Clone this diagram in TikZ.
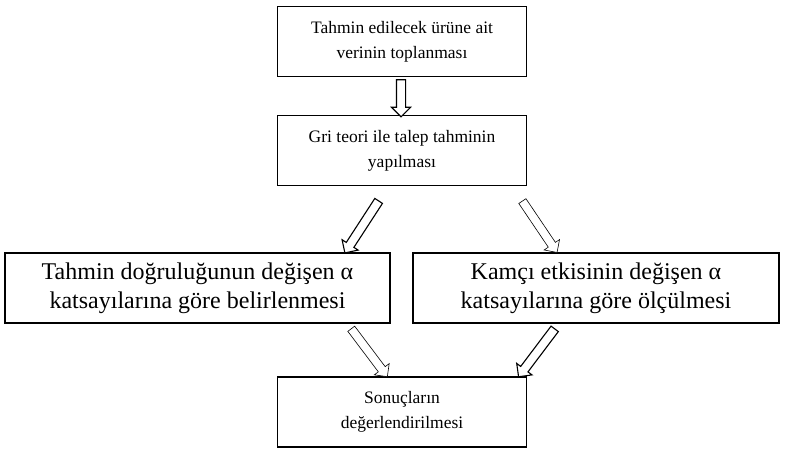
\documentclass[tikz,border=0pt]{standalone}
\usepackage{fontspec}
\setmainfont{Liberation Serif}
\usetikzlibrary{positioning, shapes.arrows}
\tikzset{%
  stepbox/.style={draw, line width=1.2pt, align=center,
    minimum height=70pt, inner sep=0pt,
    font=\fontsize{17.5}{25}\selectfont},
  widebox/.style={stepbox, font=\fontsize{24}{29}\selectfont},
  hollow/.style={single arrow, draw, fill=white, line width=0.6pt,
    minimum width=18pt, inner sep=4pt,
    single arrow head extend=5pt, single arrow head indent=0pt},
  hollow heavy/.style={hollow, line width=1.1pt}
}
\begin{document}
\begin{tikzpicture}[x=1pt, y=1pt]
    \useasboundingbox (0,0) rectangle (791,458);

    % boxes
    \node[stepbox, minimum width=249pt] (collect) at (402,416.5) {Tahmin edilecek ürüne ait\\verinin toplanması};
    \node[stepbox, minimum width=249pt] (grey) at (402,307.5) {Gri teori ile talep tahminin\\yapılması};
    \node[widebox, minimum width=385pt] (accuracy) at (197.5,170) {Tahmin doğruluğunun değişen α\\katsayılarına göre belirlenmesi};
    \node[widebox, minimum width=366pt] (bullwhip) at (596,170) {Kamçı etkisinin değişen α\\katsayılarına göre ölçülmesi};
    \node[stepbox, minimum width=249pt] (results) at (402,46) {Sonuçların\\değerlendirilmesi};

    % hollow arrows between the boxes
    \node[hollow heavy, minimum height=37pt, rotate=-90] (a1) at (401,362) {};
    \node[hollow heavy, minimum height=62pt, rotate=-123] (a2) at (363,233) {};
    \node[hollow, minimum height=62pt, rotate=-56] (a3) at (538.5,233) {};
    \node[hollow, minimum height=60pt, rotate=-53] (a4) at (368,107) {};
    \node[hollow heavy, minimum height=60pt, rotate=-127] (a5) at (538,107) {};
\end{tikzpicture}
\end{document}
